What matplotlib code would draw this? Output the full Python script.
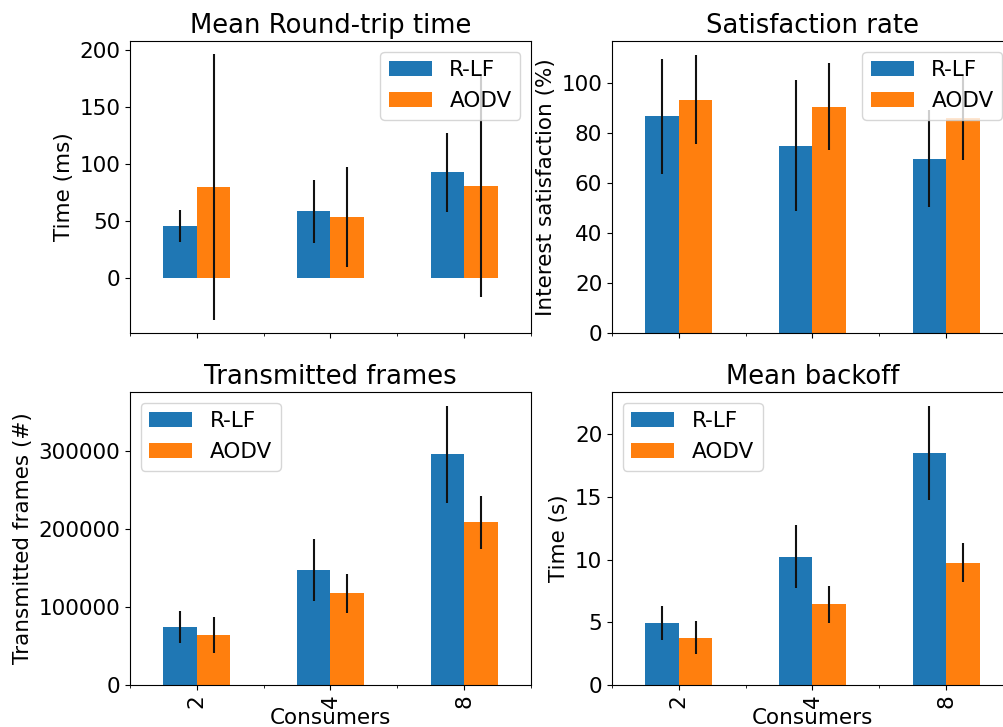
import numpy as np
import matplotlib
matplotlib.use("Agg")
from matplotlib import pyplot as plt

consumers = ["2", "4", "8"]
series = ["R-LF", "AODV"]

rtt_rlf = [45.5, 58.7, 92.8]
rtt_rlf_err = [14.0, 27.5, 35.0]
rtt_aodv = [80.0, 53.4, 81.2]
rtt_aodv_err = [116.5, 44.0, 98.0]

sat_rlf = [86.8, 75.0, 69.8]
sat_rlf_err = [23.0, 26.3, 19.4]
sat_aodv = [93.5, 90.7, 86.3]
sat_aodv_err = [17.9, 17.3, 16.8]

frames_rlf = [74000, 148000, 296000]
frames_rlf_err = [20500, 39600, 62000]
frames_aodv = [64000, 117500, 208500]
frames_aodv_err = [22700, 25300, 34000]

backoff_rlf = [4.95, 10.23, 18.51]
backoff_rlf_err = [1.37, 2.53, 3.75]
backoff_aodv = [3.78, 6.44, 9.77]
backoff_aodv_err = [1.30, 1.48, 1.57]

plt.rcParams["font.size"] = 15.5

W, H = 1004, 727
fig = plt.figure(figsize=(W / 100, H / 100), dpi=100)


def make_ax(left, top, right, bottom):
    return fig.add_axes([left / W, (H - bottom) / H, (right - left) / W, (bottom - top) / H])


ax_rtt = make_ax(130, 41, 531, 333)
ax_sat = make_ax(612, 41, 1013, 333)
ax_frm = make_ax(130, 392, 531, 685)
ax_bko = make_ax(612, 392, 1013, 685)

panels = [
    (ax_rtt, rtt_rlf, rtt_rlf_err, rtt_aodv, rtt_aodv_err, "Mean Round-trip time", "Time (ms)", "upper right"),
    (ax_sat, sat_rlf, sat_rlf_err, sat_aodv, sat_aodv_err, "Satisfaction rate", "Interest satisfaction (%)", "upper right"),
    (ax_frm, frames_rlf, frames_rlf_err, frames_aodv, frames_aodv_err, "Transmitted frames", "Transmitted frames (#)", "upper left"),
    (ax_bko, backoff_rlf, backoff_rlf_err, backoff_aodv, backoff_aodv_err, "Mean backoff", "Time (s)", "upper left"),
]

x = np.arange(len(consumers))
w = 0.25
for i, (ax, a, ae, b, be, title, ylabel, loc) in enumerate(panels):
    ax.bar(x - w / 2, a, w, yerr=ae, color="#1f77b4", label=series[0],
           error_kw=dict(ecolor="#111111", elinewidth=1.5, capsize=0))
    ax.bar(x + w / 2, b, w, yerr=be, color="#ff7f0e", label=series[1],
           error_kw=dict(ecolor="#111111", elinewidth=1.5, capsize=0))
    ax.set_xlim(-0.5, len(consumers) - 0.5)
    ax.set_xticks(x)
    ax.set_xticks(np.arange(len(consumers) + 1) - 0.5, minor=True)
    ax.set_title(title, fontsize=18.6)
    ax.set_ylabel(ylabel)
    ax.legend(loc=loc)
    if i < 2:
        ax.set_xticklabels([])
    else:
        ax.set_xticklabels(consumers, rotation=90)
        ax.set_xlabel("Consumers", labelpad=0)

plt.savefig("out.png", dpi=100)
